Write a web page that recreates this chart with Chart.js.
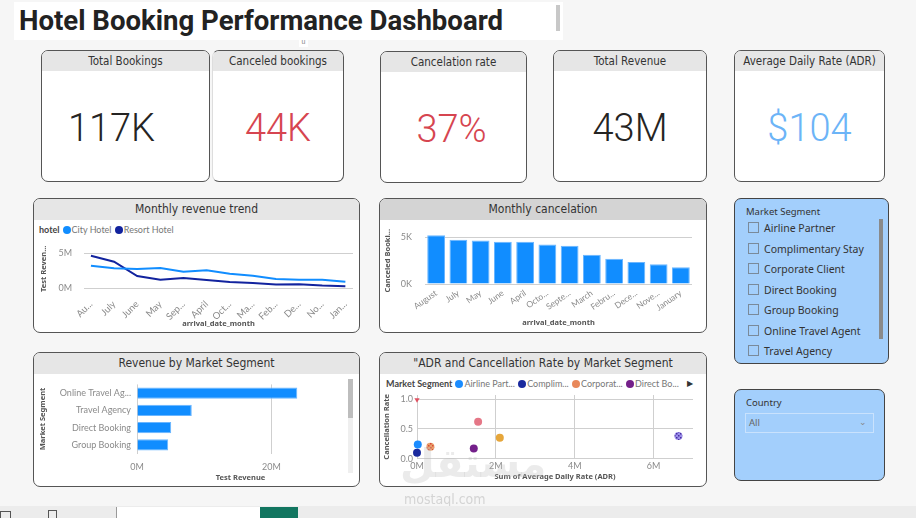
<!DOCTYPE html>
<html>
<head>
<meta charset="utf-8">
<script src="https://cdn.jsdelivr.net/npm/chart.js@4.4.1/dist/chart.umd.min.js"></script>
<style>
  body { margin: 0; width: 916px; height: 518px; background: #f6f6f6; position: relative; overflow: hidden; font-family: "Noto Sans", "Open Sans", sans-serif; }
  .abs { position: absolute; }
  #title { left: 14px; top: 2px; width: 549px; height: 38px; background: #fff; }
  #title h1 { margin: 0; position: absolute; left: 5px; top: 2px; font: bold 28px Roboto, sans-serif; color: #222; white-space: nowrap; transform-origin: 0 0; }
  #title .sb { position: absolute; left: 542px; top: 3px; width: 4px; height: 26px; background: #c8c8c8; }
  .card { background: #fff; border: 1px solid #555; border-radius: 7px; box-sizing: border-box; overflow: hidden; }
  .card .hd { height: 20px; background: #e6e6e6; text-align: center; font: 11.5px "DejaVu Sans Condensed", sans-serif; line-height: 20px; color: #333; }
  .kpi .val { position: absolute; left: 0; right: 0; top: 55px; text-align: center; font: 300 38px Roboto, sans-serif; color: #252423; }
  .panel .hd { font-size: 12px; height: 21px; line-height: 21px; }
  canvas { position: absolute; }
  .legend { position: absolute; font: 9px Lato, sans-serif; color: #777; white-space: nowrap; }
  .legend b { color: #444; margin-right: 2px; }
  .legend i { display: inline-block; width: 8px; height: 8px; border-radius: 50%; vertical-align: -1px; margin: 0 1px 0 1px; }
  .slicer { background: #a3cffc; border: 1px solid #444; border-radius: 7px; box-sizing: border-box; }
  .slicer .lbl { position: absolute; left: 11px; font: 9.5px "Noto Sans", sans-serif; color: #333; }
  .slicer .item { position: absolute; left: 13px; font: 10.5px "Noto Sans", sans-serif; color: #333; }
  .slicer .item span { display: inline-block; width: 9px; height: 9px; border: 1px solid #7a8a9a; vertical-align: -1px; margin-right: 5px; }
</style>
</head>
<body>
<div id="title" class="abs"><h1 id="ttl">Hotel Booking Performance Dashboard</h1><div class="sb"></div></div>
<div class="abs" style="left:299px;top:38px;width:9px;height:9px;background:#fff;font:7px sans-serif;color:#888;text-align:center;">u</div>

<div id="kpis"></div>

<div class="abs card panel" style="left:33px;top:198px;width:327px;height:135px;"><div class="hd">Monthly revenue trend</div></div>
<div class="abs card panel" style="left:379px;top:198px;width:328px;height:135px;"><div class="hd" style="background:#d4d4d4;">Monthly cancelation</div></div>
<div class="abs card panel" style="left:33px;top:352px;width:327px;height:135px;"><div class="hd">Revenue by Market Segment</div>
  <div class="abs" style="left:314px;top:26px;width:5px;height:94px;background:#efefef;"><div style="width:5px;height:39px;background:#bdbdbd;"></div></div>
</div>
<div class="abs card panel" style="left:379px;top:352px;width:328px;height:135px;"><div class="hd">"ADR and Cancellation Rate by Market Segment</div></div>

<div id="legend1" class="legend" style="left:39px;top:224px;"></div>
<div id="legend4" class="legend" style="left:386px;top:378px;"></div>

<canvas id="c1" width="324" height="112" style="left:34px;top:219px;"></canvas>
<canvas id="c2" width="326" height="112" style="left:380px;top:219px;"></canvas>
<canvas id="c3" width="312" height="113" style="left:34px;top:373px;"></canvas>
<canvas id="c4" width="326" height="113" style="left:380px;top:373px;"></canvas>

<div id="slicer" class="abs slicer" style="left:734px;top:198px;width:155px;height:166px;">
  <div class="lbl" style="top:6px;">Market Segment</div>
  <div class="abs" style="left:144px;top:20px;width:4px;height:120px;background:#8a8a8a;"></div>
</div>
<div class="abs slicer" style="left:734px;top:389px;width:151px;height:92px;">
  <div class="lbl" style="top:6px;">Country</div>
  <div class="abs" style="left:10px;top:23px;width:127px;height:18px;border:1px solid #c9e2fd;font:9.5px 'Noto Sans',sans-serif;color:#666;line-height:18px;text-indent:3px;">All<span style="position:absolute;right:6px;top:-1px;color:#888;font-size:9px;">&#8964;</span></div>
</div>

<div class="abs" style="left:400px;top:440px;font:bold 40px 'DejaVu Sans',sans-serif;color:rgba(190,190,190,0.3);direction:rtl;">مستقل</div>
<div class="abs" style="left:404px;top:491px;font:14px 'DejaVu Sans Condensed',sans-serif;color:#d4d4d4;">mostaql.com</div>

<div class="abs" style="left:0;top:506px;width:916px;height:12px;background:#ececec;"></div>
<div class="abs" style="left:116px;top:507px;width:144px;height:11px;background:#fff;border-left:1px solid #999;"></div>
<div class="abs" style="left:260px;top:507px;width:38px;height:11px;background:#127660;"></div>
<div class="abs" style="left:0;top:511px;width:9px;height:7px;border:1px solid #555;border-bottom:none;"></div>
<div class="abs" style="left:48px;top:510px;width:7px;height:8px;border:1px solid #555;border-bottom:none;"></div>

<script>
// fit the title to the width it has in the reference
const ttl = document.getElementById('ttl');
ttl.style.transform = `scaleX(${484 / ttl.getBoundingClientRect().width})`;

// KPI cards
const kpiTitles = ['Total Bookings', 'Canceled bookings', 'Cancelation rate', 'Total Revenue', 'Average Daily Rate (ADR)'];
const kpiValues = ['117K', '44K', '37%', '43M', '$104'];
const kpiColors = ['#252423', '#d64550', '#d64550', '#252423', '#6cb4f7'];
const kpiBoxes = [[41, 50, 169, -28], [212, 50, 132, 0], [380, 51, 147, -4], [553, 50, 154, 0], [734, 50, 151, 0]];

const kpiWrap = document.getElementById('kpis');
kpiTitles.forEach((t, i) => {
    const [x, y, w, shift] = kpiBoxes[i];
    const d = document.createElement('div');
    d.className = 'abs card kpi';
    d.style.cssText = `left:${x}px;top:${y}px;width:${w}px;height:132px;` + (i === 1 ? 'border-left-color:#ddd;' : '');
    d.innerHTML = `<div class="hd">${t}</div><div class="val" style="color:${kpiColors[i]};right:${-shift}px">${kpiValues[i]}</div>`;
    kpiWrap.appendChild(d);
});

// Slicer items
const segmentsAll = ['Airline Partner', 'Complimentary Stay', 'Corporate Client', 'Direct Booking', 'Group Booking', 'Online Travel Agent', 'Travel Agency'];
const slicer = document.getElementById('slicer');
segmentsAll.forEach((s, i) => {
    const d = document.createElement('div');
    d.className = 'item';
    d.style.top = (22 + i * 20.5) + 'px';
    d.innerHTML = `<span></span>${s}`;
    slicer.appendChild(d);
});

// Chart data
const trendLabels = ['Au...', 'July', 'June', 'May', 'Sep...', 'April', 'Oct...', 'Ma...', 'Feb...', 'De...', 'No...', 'Jan...'];
const cityRevenue = [3.24, 2.87, 2.78, 2.92, 2.36, 2.60, 2.08, 1.80, 1.34, 1.25, 1.25, 0.97];   // millions
const resortRevenue = [4.63, 3.80, 1.76, 1.25, 1.48, 1.20, 0.93, 0.79, 0.56, 0.60, 0.42, 0.32];
const revTicks = [0, 5];

const cancelLabels = ['August', 'July', 'May', 'June', 'April', 'Octo...', 'Septe...', 'March', 'Febru...', 'Dece...', 'Nove...', 'January'];
const cancelCounts = [5239, 4742, 4677, 4535, 4524, 4246, 4116, 3149, 2696, 2371, 2122, 1807];
const cancelTicks = [0, 5000];

const segLabels = ['Online Travel Ag...', 'Travel Agency', 'Direct Booking', 'Group Booking'];
const segRevenue = [23.85, 8.15, 5.09, 4.64];   // millions
const segTicks = [0, 20];

const scatterNames = ['Airline Partner', 'Complimentary Stay', 'Corporate Client', 'Direct Booking', 'Group Booking', 'Online Travel Agent', 'Travel Agency', 'Undefined'];
const scatterAdr = [0.02, 0.0, 0.34, 1.44, 1.55, 6.63, 2.10, 0.0];   // millions
const scatterRate = [0.24, 0.10, 0.20, 0.17, 0.62, 0.38, 0.35, 0.99];
const scatterColors = ['#1a8cff', '#1a2a9e', '#e8885a', '#74208a', '#e57787', '#8e82e6', '#e6a63a', '#e05060'];
const scatterLegendShort = ['Airline Part...', 'Complim...', 'Corporat...', 'Direct Bo...'];
const adrTicks = [0, 2, 4, 6];
const rateTicks = [0, 0.5, 1.0];

const tickFont = { family: 'Lato', size: 9 };
const tickColor = '#8a8a8a';
const titleFont = { family: 'Noto Sans', size: 7.5, weight: 'bold' };
const gridDots = { color: '#cfcfcf', borderDash: [1, 3], drawTicks: false };
const noGrid = { display: false, drawTicks: false };
const fixTicks = arr => (scale => { scale.ticks = arr.map(v => ({ value: v })); });
const fixHeight = h => (scale => { scale.height = h; });
const fixWidth = w => (scale => { scale.width = w; });

Chart.defaults.animation = false;
Chart.defaults.plugins.legend.display = false;
Chart.defaults.plugins.tooltip.enabled = false;
Chart.defaults.responsive = false;

// legends (HTML)
document.getElementById('legend1').innerHTML = '<b>hotel</b>' +
    [['City Hotel', '#118dff'], ['Resort Hotel', '#12239e']].map(([n, c]) => `<i style="background:${c}"></i>${n}`).join(' ');
document.getElementById('legend4').innerHTML = '<b>Market Segment</b>' +
    scatterLegendShort.map((n, i) => `<i style="background:${scatterColors[i]}"></i>${n}`).join(' ') +
    '<span style="position:absolute;left:301px;top:0;color:#333;font-size:8px;">&#9654;</span>';

// Monthly revenue trend (month index on a linear axis, so the line sits a bit inside the gridlines)
const monthIdx = trendLabels.map((_, i) => i);
new Chart(document.getElementById('c1'), {
    type: 'line',
    data: {
        datasets: [
            { label: 'City Hotel', data: cityRevenue.map((v, i) => ({ x: i, y: v })), borderColor: '#118dff', borderWidth: 2, pointRadius: 0, tension: 0 },
            { label: 'Resort Hotel', data: resortRevenue.map((v, i) => ({ x: i, y: v })), borderColor: '#12239e', borderWidth: 2, pointRadius: 0, tension: 0 }
        ]
    },
    options: {
        layout: { padding: { top: 30, right: 5, bottom: 3, left: 0 } },
        scales: {
            x: {
                type: 'linear', min: -0.3, max: 11.33,
                afterBuildTicks: fixTicks(monthIdx),
                grid: { display: false }, border: { display: false },
                ticks: { font: { family: 'Lato', size: 9.5 }, color: tickColor, maxRotation: 45, minRotation: 45, autoSkip: false, padding: 2, callback: v => trendLabels[v] },
                title: { display: true, text: 'arrival_date_month', font: titleFont, color: '#555', padding: { top: 6, bottom: 0 } }
            },
            y: {
                min: 0, max: 5.6,
                afterFit: fixWidth(50),
                afterBuildTicks: fixTicks(revTicks),
                grid: gridDots, border: { display: false },
                ticks: { font: tickFont, color: tickColor, padding: 12, callback: v => v + 'M' },
                title: { display: true, text: 'Test Reven...', font: titleFont, color: '#555', padding: 5 }
            }
        }
    }
});

// Monthly cancelation
new Chart(document.getElementById('c2'), {
    type: 'bar',
    data: {
        labels: cancelLabels,
        datasets: [{ data: cancelCounts, backgroundColor: '#118dff', borderColor: '#6bb6ff', borderWidth: { top: 1, left: 1, right: 1 }, categoryPercentage: 0.8, barPercentage: 1, clip: false }]
    },
    options: {
        layout: { padding: { top: 4, right: 14, bottom: 0, left: 0 } },
        scales: {
            x: {
                afterFit: fixHeight(47),
                grid: noGrid, border: { display: false },
                ticks: { font: { family: 'Lato', size: 8.5 }, color: tickColor, maxRotation: 35, minRotation: 35, autoSkip: false, padding: 4 },
                title: { display: true, text: 'arrival_date_month', font: titleFont, color: '#555', padding: { top: 0, bottom: 3.5 } }
            },
            y: {
                min: 0, max: 5000,
                afterFit: fixWidth(45),
                afterBuildTicks: fixTicks(cancelTicks),
                grid: gridDots, border: { display: false },
                ticks: { font: tickFont, color: tickColor, padding: 13, callback: v => (v / 1000) + 'K' },
                title: { display: true, text: 'Canceled Booki...', font: titleFont, color: '#555', padding: 3.5 }
            }
        }
    }
});

// Revenue by market segment
new Chart(document.getElementById('c3'), {
    type: 'bar',
    data: {
        labels: segLabels,
        datasets: [{ data: segRevenue, backgroundColor: '#118dff', borderColor: '#6bb6ff', borderWidth: 1, categoryPercentage: 0.65, barPercentage: 1 }]
    },
    options: {
        indexAxis: 'y',
        layout: { padding: { top: 10, right: 2, bottom: 0, left: 0 } },
        scales: {
            x: {
                min: 0, max: 30.8,
                afterFit: fixHeight(32.4),
                afterBuildTicks: fixTicks(segTicks),
                grid: gridDots, border: { display: false },
                ticks: { font: tickFont, color: tickColor, padding: 8, callback: v => v + 'M' },
                title: { display: true, text: 'Test Revenue', font: titleFont, color: '#555', padding: { top: 0, bottom: 3.5 } }
            },
            y: {
                afterFit: fixWidth(103),
                grid: noGrid, border: { display: false },
                ticks: { font: tickFont, color: tickColor, padding: 6 },
                title: { display: true, text: 'Market Segment', font: titleFont, color: '#555', padding: 4.5 }
            }
        }
    }
});

// patterns for two segments
function dotPattern(base, dot) {
    const p = document.createElement('canvas');
    p.width = 4; p.height = 4;
    const g = p.getContext('2d');
    g.fillStyle = base; g.fillRect(0, 0, 4, 4);
    g.fillStyle = dot; g.fillRect(0, 0, 1.5, 1.5); g.fillRect(2, 2, 1.5, 1.5);
    return g.createPattern(p, 'repeat');
}
const pointFill = scatterColors.slice();
pointFill[2] = dotPattern('#e8a06a', '#d8483a');
pointFill[5] = dotPattern('#9a90ea', '#4a2aa0');

// ADR and cancellation rate
new Chart(document.getElementById('c4'), {
    type: 'scatter',
    data: {
        datasets: scatterNames.map((n, i) => ({
            label: n,
            data: [{ x: scatterAdr[i], y: scatterRate[i] }],
            backgroundColor: pointFill[i],
            borderWidth: 0,
            pointRadius: i === 7 ? 3 : 4,
            pointStyle: i === 7 ? 'triangle' : 'circle',
            rotation: i === 7 ? 180 : 0,
            clip: false
        }))
    },
    options: {
        layout: { padding: { top: 22, right: 13, bottom: 0, left: 0 } },
        scales: {
            x: {
                min: 0, max: 7,
                afterFit: fixHeight(27.3),
                afterBuildTicks: fixTicks(adrTicks),
                grid: gridDots, border: { display: false },
                ticks: { font: tickFont, color: tickColor, padding: 2, callback: v => v + 'M' },
                title: { display: true, text: 'Sum of Average Daily Rate (ADR)', font: titleFont, color: '#555', padding: { top: 0, bottom: 4.5 } }
            },
            y: {
                min: 0, max: 1.07,
                afterFit: fixWidth(37),
                afterBuildTicks: fixTicks(rateTicks),
                grid: gridDots, border: { display: false },
                ticks: { font: tickFont, color: tickColor, padding: 4, callback: v => v.toFixed(1) },
                title: { display: true, text: 'Cancellation Rate', font: titleFont, color: '#555', padding: 2.5 }
            }
        }
    }
});
</script>
</body>
</html>
